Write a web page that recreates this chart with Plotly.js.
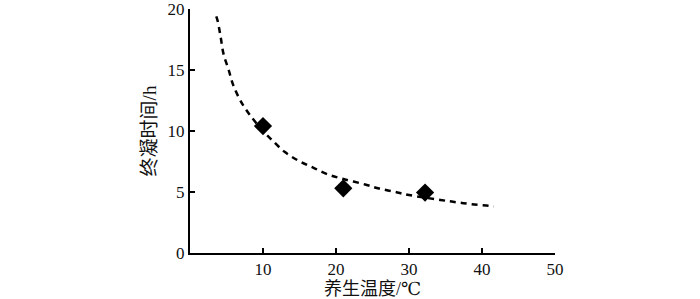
<!DOCTYPE html>
<html>
<head>
<meta charset="utf-8">
<script src="https://cdn.plot.ly/plotly-3.0.1.min.js"></script>
<style>html,body{margin:0;padding:0;background:#fff;}#chart{width:700px;height:299px;}</style>
</head>
<body>
<div id="chart"></div>
<script>
// Measured data points
var tempPoints = [10, 21, 32.2];
var timePoints = [10.4, 5.3, 4.95];
// Fitted dashed curve
var curveX = [3.6, 3.8, 4.2, 4.6, 5.3, 5.9, 6.9, 8.1, 10.0, 11.2, 13.0, 14.9, 16.8, 18.7, 20.9, 24.1, 25.9, 28.0, 30.0, 34.3, 36.5, 38.6, 40.9, 41.6];
var curveY = [19.4, 19.0, 17.7, 16.3, 15.0, 13.8, 12.5, 11.4, 10.0, 9.28, 8.27, 7.55, 7.02, 6.48, 6.08, 5.6, 5.28, 5.02, 4.75, 4.35, 4.16, 4.0, 3.87, 3.82];
var xTicks = [10, 20, 30, 40, 50];
var yTicks = [0, 5, 10, 15, 20];

var fontFam = "Times New Roman, Liberation Serif, DejaVu Serif, Noto Sans CJK SC, serif";

var traces = [
  {x: curveX, y: curveY, mode: 'lines', type: 'scatter',
   line: {color: '#000', width: 2.5, dash: '6px,5px', shape: 'spline'}, hoverinfo: 'skip'},
  {x: tempPoints, y: timePoints, mode: 'markers', type: 'scatter',
   marker: {symbol: 'diamond', size: 14, color: '#000'}}
];

var layout = {
  width: 700, height: 299,
  margin: {l: 190, r: 145, t: 9, b: 46},
  showlegend: false,
  paper_bgcolor: '#fff', plot_bgcolor: '#fff',
  font: {family: fontFam, size: 18, color: '#111'},
  xaxis: {
    range: [0, 50], tickvals: xTicks, ticktext: xTicks.map(String),
    showgrid: false, zeroline: false, showline: true, linecolor: '#000', linewidth: 2,
    ticks: 'inside', ticklen: 5, tickwidth: 1.5, tickcolor: '#000',
    ticklabeloverflow: 'allow',
    tickfont: {family: fontFam, size: 17},
    title: {text: '养生温度/℃', font: {family: fontFam, size: 18}, standoff: 4}
  },
  yaxis: {
    range: [0, 20], tickvals: yTicks, ticktext: yTicks.map(String),
    showgrid: false, zeroline: false, showline: true, linecolor: '#000', linewidth: 2,
    ticks: 'inside', ticklen: 5, tickwidth: 1.5, tickcolor: '#000',
    ticklabeloverflow: 'allow',
    tickfont: {family: fontFam, size: 17},
    title: {text: '终凝时间/h', font: {family: fontFam, size: 19}, standoff: 6}
  }
};

Plotly.newPlot('chart', traces, layout, {displayModeBar: false, staticPlot: true});
</script>
</body>
</html>
